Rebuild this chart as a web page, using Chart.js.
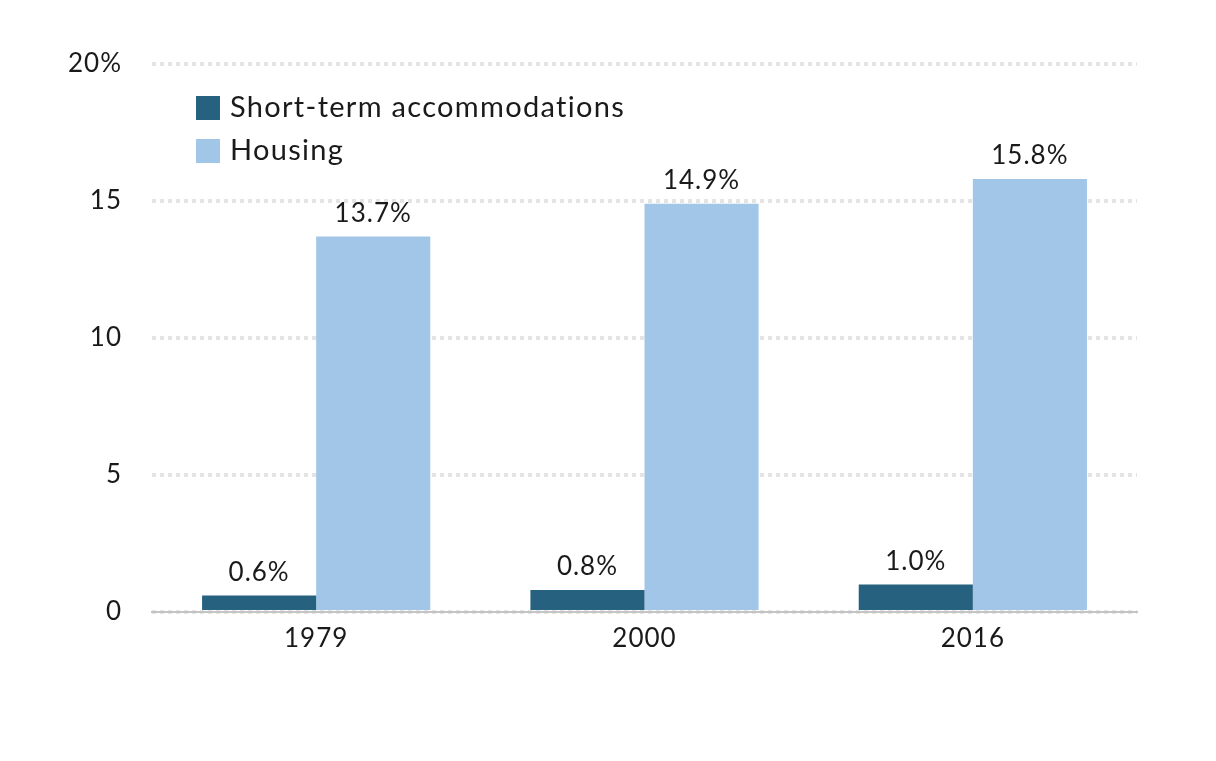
<!DOCTYPE html>
<html>
<head>
<meta charset="utf-8">
<script src="https://cdn.jsdelivr.net/npm/chart.js@4/dist/chart.umd.min.js"></script>
<style>
  html, body { margin: 0; padding: 0; background: #fff; }
  #wrap { width: 1216px; height: 761px; }
</style>
</head>
<body>
<div id="wrap"><canvas id="chart" width="1216" height="761"></canvas></div>
<script>
// chart data
const years = ['1979', '2000', '2016'];
const shortTerm = [0.6, 0.8, 1.0];
const housing = [13.7, 14.9, 15.8];
const seriesNames = ['Short-term accommodations', 'Housing'];
const yTicks = [0, 5, 10, 15, 20];

const DARK = '#26617f';
const LIGHT = '#a1c6e8';
const FONT = 'Lato, "Open Sans", sans-serif';

// a little tracking, the original font is wider than Lato
const tracking = {
  id: 'tracking',
  beforeDraw(chart) { chart.ctx.letterSpacing = '1px'; }
};

// labels above each bar
const barLabels = {
  id: 'barLabels',
  afterDatasetsDraw(chart) {
    const ctx = chart.ctx;
    ctx.save();
    ctx.font = '26px ' + FONT;
    ctx.letterSpacing = '1px';
    ctx.fillStyle = '#1a1a1a';
    ctx.textAlign = 'center';
    ctx.textBaseline = 'bottom';
    chart.data.datasets.forEach((ds, i) => {
      chart.getDatasetMeta(i).data.forEach((bar, j) => {
        ctx.fillText(ds.data[j].toFixed(1) + '%', bar.x, bar.y - 10);
      });
    });
    ctx.restore();
  }
};

// legend drawn inside the plot, top left
const innerLegend = {
  id: 'innerLegend',
  afterDraw(chart) {
    const ctx = chart.ctx;
    ctx.save();
    ctx.font = '29px ' + FONT;
    ctx.letterSpacing = '1.3px';
    ctx.textBaseline = 'middle';
    const colors = [DARK, LIGHT];
    seriesNames.forEach((name, i) => {
      const y = 108 + i * 43;
      ctx.fillStyle = colors[i];
      ctx.fillRect(196, y - 12, 24, 24);
      ctx.fillStyle = '#1a1a1a';
      ctx.fillText(name, 230, y);
    });
    ctx.restore();
  }
};

new Chart(document.getElementById('chart'), {
  type: 'bar',
  data: {
    labels: years,
    datasets: [
      { label: seriesNames[0], data: shortTerm, backgroundColor: DARK },
      { label: seriesNames[1], data: housing, backgroundColor: LIGHT }
    ]
  },
  options: {
    responsive: false,
    devicePixelRatio: 1,
    animation: false,
    layout: { padding: { top: 64, right: 79, left: 0, bottom: 0 } },
    datasets: { bar: { barPercentage: 1, categoryPercentage: 0.695 } },
    plugins: { legend: { display: false }, tooltip: { enabled: false } },
    scales: {
      x: {
        grid: { display: false, drawTicks: false },
        border: { display: true, color: '#c4c4c4', width: 2 },
        ticks: { color: '#1a1a1a', font: { family: FONT, size: 26 }, padding: 11 },
        afterFit(scale) { scale.height = 149; }
      },
      y: {
        min: 0,
        max: 20,
        afterBuildTicks(scale) { scale.ticks = yTicks.map(v => ({ value: v })); },
        grid: { color: '#e4e4e4', lineWidth: 4, drawTicks: false },
        border: { display: false, dash: [4, 4] },
        ticks: {
          color: '#1a1a1a',
          font: { family: FONT, size: 26 },
          padding: 30,
          callback: v => v === 20 ? '20%' : String(v)
        },
        afterFit(scale) { scale.width = 152; }
      }
    }
  },
  plugins: [tracking, barLabels, innerLegend]
});
</script>
</body>
</html>
